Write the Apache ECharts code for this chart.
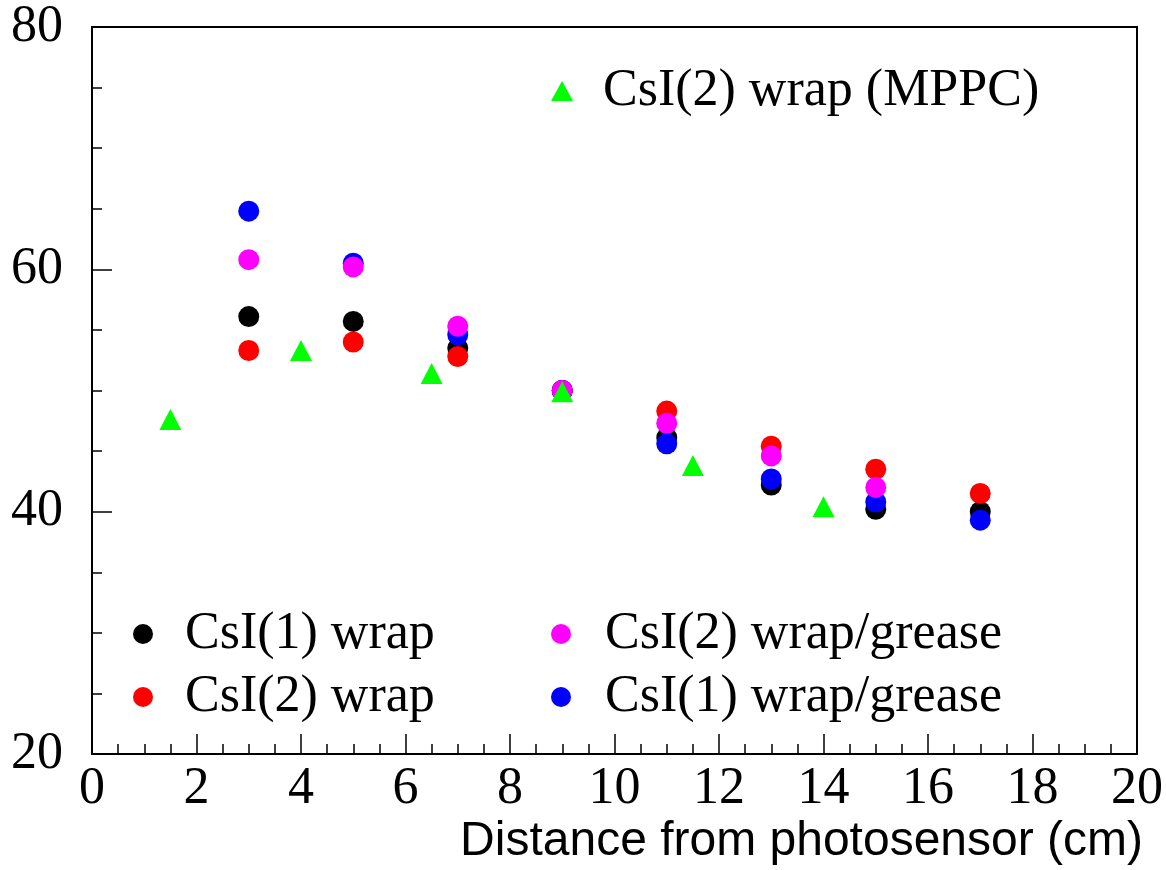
<!DOCTYPE html>
<html><head><meta charset="utf-8">
<script src="https://cdn.jsdelivr.net/npm/echarts@6/dist/echarts.min.js"></script>
<style>html,body{margin:0;padding:0;background:#fff}#c{width:1166px;height:870px}</style>
</head><body><div id="c"></div>
<script>
const distances = [3, 5, 7, 9, 11, 13, 15, 17];
const csi1Wrap = [56.1, 55.7, 53.5, 50.0, 46.1, 42.2, 40.2, 40.0];
const csi2Wrap = [53.3, 54.0, 52.8, 50.0, 48.3, 45.4, 43.5, 41.5];
const csi1WrapGrease = [64.8, 60.5, 54.6, 50.0, 45.6, 42.7, 40.8, 39.3];
const csi2WrapGrease = [60.8, 60.2, 55.3, 50.0, 47.3, 44.6, 42.0, null];
const mppcDistances = [1.5, 4, 6.5, 9, 11.5, 14];
const mppcValues = [47.6, 53.3, 51.4, 49.9, 43.8, 40.4];
const xTicks = [0, 2, 4, 6, 8, 10, 12, 14, 16, 18, 20];
const yTicks = [20, 40, 60, 80];

const pairs = (xs, ys) => xs.map((x, i) => [x, ys[i]]).filter(p => p[1] !== null);
const serif = 'Liberation Serif';

const chart = echarts.init(document.getElementById('c'), null, {renderer: 'canvas'});
const axisCommon = {
  axisLine: {show: true, lineStyle: {color: '#000', width: 2}},
  axisTick: {show: true, inside: true, length: 20, lineStyle: {color: '#000', width: 1.5}},
  minorTick: {show: true, splitNumber: 4, length: 10, lineStyle: {color: '#000', width: 1.5}},
  splitLine: {show: false},
  axisLabel: {color: '#000', fontFamily: serif, fontSize: 52}
};
chart.setOption({
  animation: false,
  backgroundColor: '#fff',
  grid: {left: 92, right: 29, top: 27, bottom: 116, show: true, borderColor: '#000', borderWidth: 2, backgroundColor: 'transparent'},
  title: {
    text: 'Distance from photosensor (cm)', right: 23, top: 818, padding: 0,
    textStyle: {fontFamily: 'Liberation Sans', fontSize: 48, fontWeight: 'normal', color: '#000'}
  },
  xAxis: Object.assign({}, axisCommon, {
    type: 'value', min: xTicks[0], max: xTicks[xTicks.length - 1], interval: xTicks[1] - xTicks[0],
    axisLabel: Object.assign({}, axisCommon.axisLabel, {margin: 9})
  }),
  yAxis: Object.assign({}, axisCommon, {
    type: 'value', min: yTicks[0], max: yTicks[yTicks.length - 1], interval: yTicks[1] - yTicks[0],
    axisLabel: Object.assign({}, axisCommon.axisLabel, {margin: 29})
  }),
  legend: [
    {
      data: [{name: 'CsI(2) wrap (MPPC)', icon: 'triangle'}], left: 551, top: 65, padding: 0,
      itemWidth: 22, itemHeight: 20,
      textStyle: {fontFamily: serif, fontSize: 52, color: '#000', lineHeight: 50, padding: [0, 0, 0, 25]}
    },
    {
      data: [{name: 'CsI(1) wrap', icon: 'circle'}, {name: 'CsI(2) wrap', icon: 'circle'}],
      left: 133, top: 608, orient: 'vertical', padding: 0, itemGap: 11,
      itemWidth: 20, itemHeight: 20,
      textStyle: {fontFamily: serif, fontSize: 52, color: '#000', lineHeight: 50, padding: [0, 0, 0, 27]}
    },
    {
      data: [{name: 'CsI(2) wrap/grease', icon: 'circle'}, {name: 'CsI(1) wrap/grease', icon: 'circle'}],
      left: 551, top: 608, orient: 'vertical', padding: 0, itemGap: 11,
      itemWidth: 20, itemHeight: 20,
      textStyle: {fontFamily: serif, fontSize: 52, color: '#000', lineHeight: 50, padding: [0, 0, 0, 29]}
    }
  ],
  series: [
    {name: 'CsI(1) wrap', type: 'scatter', symbol: 'circle', symbolSize: 21, itemStyle: {color: '#000000', opacity: 1}, data: pairs(distances, csi1Wrap)},
    {name: 'CsI(2) wrap', type: 'scatter', symbol: 'circle', symbolSize: 21, itemStyle: {color: '#ff0000', opacity: 1}, data: pairs(distances, csi2Wrap)},
    {name: 'CsI(1) wrap/grease', type: 'scatter', symbol: 'circle', symbolSize: 21, itemStyle: {color: '#0000ff', opacity: 1}, data: pairs(distances, csi1WrapGrease)},
    {name: 'CsI(2) wrap/grease', type: 'scatter', symbol: 'circle', symbolSize: 21, itemStyle: {color: '#ff00ff', opacity: 1}, data: pairs(distances, csi2WrapGrease)},
    {name: 'CsI(2) wrap (MPPC)', type: 'scatter', symbol: 'triangle', symbolSize: [22, 21], itemStyle: {color: '#00ff00', opacity: 1}, data: pairs(mppcDistances, mppcValues)}
  ]
});
</script></body></html>
